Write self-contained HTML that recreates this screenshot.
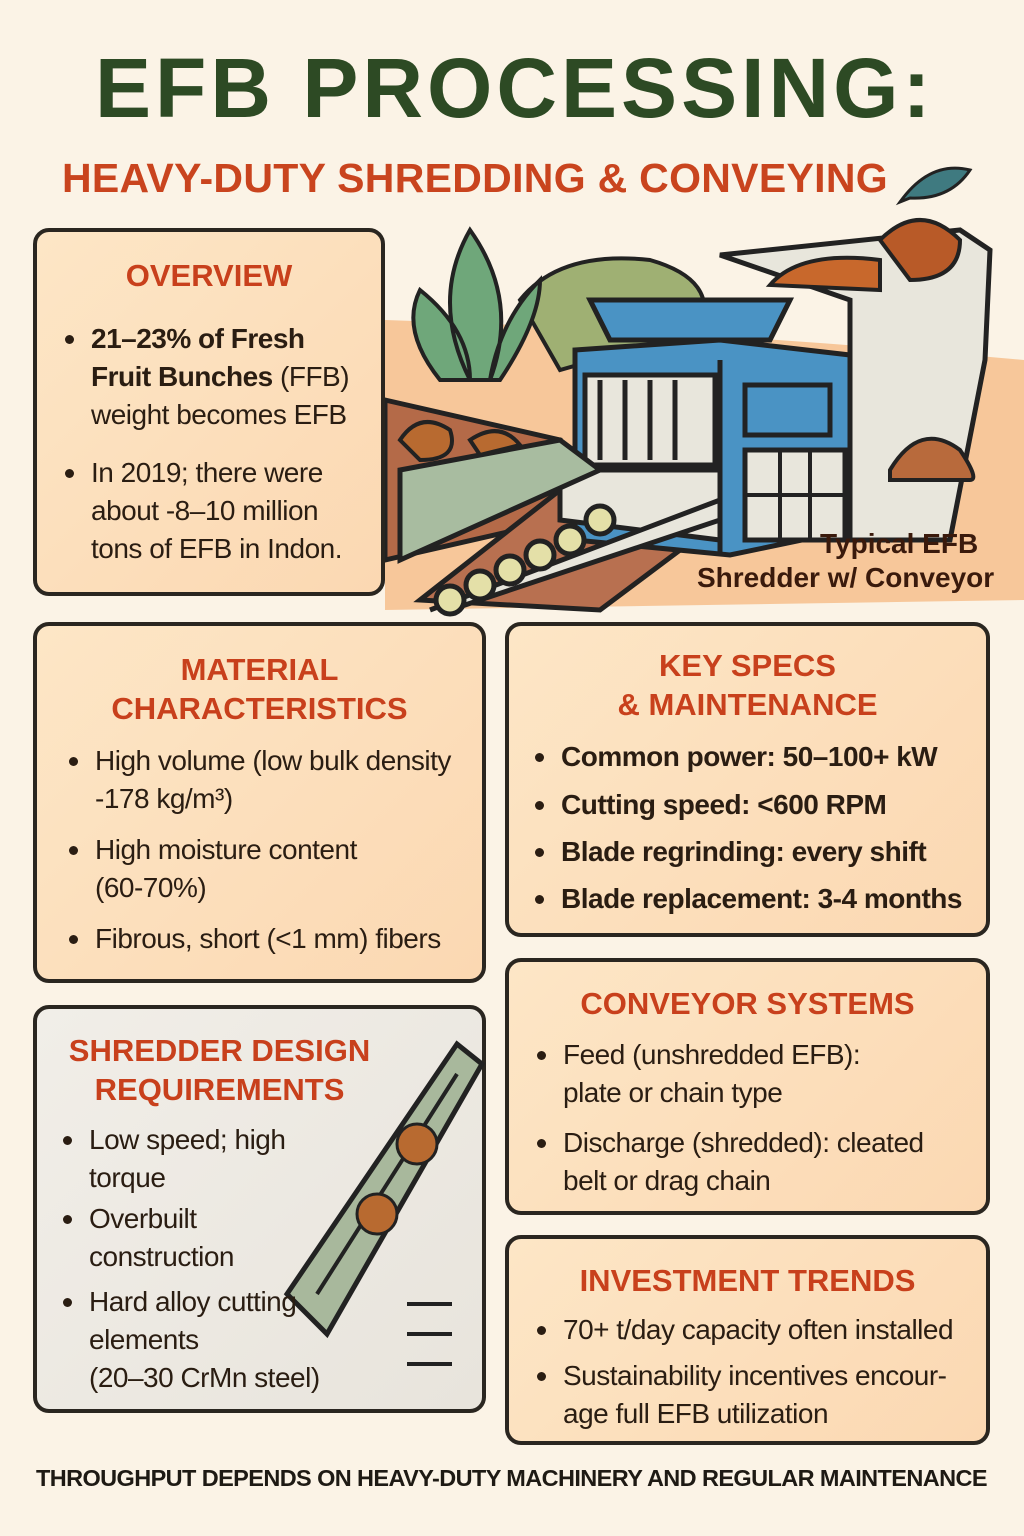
<!DOCTYPE html>
<html><head><meta charset="utf-8"><style>
body{margin:0;width:1024px;height:1536px;background:#fbf3e6;font-family:"Liberation Sans",sans-serif;position:relative;overflow:hidden}
.t{position:absolute;white-space:nowrap}
.box{position:absolute;border:4px solid #2a2620;border-radius:16px;box-sizing:border-box;background:linear-gradient(135deg,#fde6c6,#fbd8b2)}
.h{position:absolute;left:0;right:0;text-align:center;color:#c8401c;font-weight:bold;font-size:31px;line-height:39px}
.b{position:absolute;color:#2a1d12;font-size:28px;line-height:38px;letter-spacing:-0.5px}
.b:before{content:"";position:absolute;left:-26px;top:15px;width:9px;height:9px;border-radius:50%;background:#2a1d12}
</style></head><body>
<div class="t" style="left:95px;top:40px;font-size:84px;font-weight:bold;color:#2d4a24;letter-spacing:4px">EFB PROCESSING:</div>
<div class="t" style="left:62px;top:155px;font-size:41px;font-weight:bold;color:#c9441e;letter-spacing:0.3px">HEAVY-DUTY SHREDDING &amp; CONVEYING</div>
<svg style="position:absolute;left:890px;top:160px" width="85" height="50"><path d="M10 42 Q40 0 80 10 Q60 40 20 38 Z" fill="#3f7a80" stroke="#222" stroke-width="3"/></svg>

<svg style="position:absolute;left:0;top:0" width="1024" height="620">
<path d="M385 320 Q700 330 1024 360 L1024 600 L385 610 Z" fill="#f7c79a"/>
<path d="M720 255 L960 230 L990 250 L985 360 L950 540 L850 540 L850 300 Z" fill="#e8e6dc" stroke="#222" stroke-width="5"/>
<path d="M385 400 L560 440 L560 520 L385 560 Z" fill="#b46a48" stroke="#222" stroke-width="5"/>
<path d="M420 600 L560 490 L720 520 L600 610 Z" fill="#b87050" stroke="#222" stroke-width="5"/>
<path d="M520 300 Q560 250 650 260 Q720 280 700 330 L560 370 Z" fill="#9fb073" stroke="#222" stroke-width="4"/>
<path d="M470 380 Q430 300 470 230 Q520 300 490 380 Z M440 380 Q400 330 420 290 Q470 330 470 380Z M500 380 Q540 320 540 280 Q500 320 490 380Z" fill="#6fa77a" stroke="#222" stroke-width="4"/>
<path d="M770 285 Q800 250 880 260 L880 290 Z" fill="#c8682c" stroke="#222" stroke-width="4"/>
<path d="M880 240 Q920 200 960 240 Q960 280 910 280 Z" fill="#b85a28" stroke="#222" stroke-width="4"/>
<path d="M890 470 Q920 420 960 450 Q980 480 970 480 L890 480 Z" fill="#b86a3c" stroke="#222" stroke-width="4"/>
<path d="M590 300 L790 300 L770 340 L610 340 Z" fill="#4a93c4" stroke="#222" stroke-width="5"/>
<path d="M575 350 L720 340 L850 355 L850 530 L730 555 L575 540 Z" fill="#4a93c4" stroke="#222" stroke-width="5"/>
<path d="M720 360 L720 555" stroke="#222" stroke-width="5"/>
<rect x="585" y="375" width="130" height="90" fill="#e8e6dc" stroke="#222" stroke-width="5"/>
<path d="M600 380 v80 M625 380 v80 M650 380 v80 M675 380 v80" stroke="#222" stroke-width="5"/>
<rect x="745" y="385" width="85" height="50" fill="#4a93c4" stroke="#222" stroke-width="5"/>
<rect x="745" y="450" width="100" height="90" fill="#e8e6dc" stroke="#222" stroke-width="5"/>
<path d="M745 495 h100 M780 450 v90 M810 450 v90" stroke="#222" stroke-width="4"/>
<path d="M560 470 L720 470 L720 540 L560 520 Z" fill="#e8e6dc" stroke="#222" stroke-width="5"/>
<path d="M400 470 L560 440 L600 470 L400 560 Z" fill="#a8bca0" stroke="#222" stroke-width="5"/>
<path d="M430 610 L720 500 L720 520 L450 610" fill="#e8e6dc" stroke="#222" stroke-width="5"/>
<g fill="#e4e0a8" stroke="#222" stroke-width="5"><circle cx="600" cy="520" r="14"/><circle cx="570" cy="540" r="14"/><circle cx="540" cy="555" r="14"/><circle cx="510" cy="570" r="14"/><circle cx="480" cy="585" r="14"/><circle cx="450" cy="600" r="14"/></g>
<path d="M400 440 Q420 410 450 430 Q460 460 420 460 Z M470 440 Q500 420 520 445 L480 455Z" fill="#b86a30" stroke="#222" stroke-width="4"/>
</svg>
<div class="t" style="left:820px;top:528px;font-size:28px;font-weight:bold;color:#3a1a0c">Typical EFB</div>
<div class="t" style="left:697px;top:562px;font-size:28px;font-weight:bold;color:#3a1a0c">Shredder w/ Conveyor</div>

<div class="box" style="left:33px;top:228px;width:352px;height:368px">
<div class="h" style="top:24px;">OVERVIEW</div>
<div class="b" style="left:54px;top:88px"><b>21–23% of Fresh<br>Fruit Bunches</b> (FFB)<br>weight becomes EFB</div>
<div class="b" style="left:54px;top:222px">In 2019; there were<br>about -8–10 million<br>tons of EFB in Indon.</div>
</div>

<div class="box" style="left:33px;top:622px;width:453px;height:361px">
<div class="h" style="top:24px">MATERIAL<br>CHARACTERISTICS</div>
<div class="b" style="left:58px;top:116px">High volume (low bulk density<br>-178 kg/m³)</div>
<div class="b" style="left:58px;top:205px">High moisture content<br>(60-70%)</div>
<div class="b" style="left:58px;top:294px">Fibrous, short (&lt;1 mm) fibers</div>
</div>

<div class="box" style="left:505px;top:622px;width:485px;height:315px">
<div class="h" style="top:20px">KEY SPECS<br>&amp; MAINTENANCE</div>
<div class="b" style="left:52px;top:112px;font-weight:bold">Common power: 50–100+ kW</div>
<div class="b" style="left:52px;top:160px;font-weight:bold">Cutting speed: &lt;600 RPM</div>
<div class="b" style="left:52px;top:207px;font-weight:bold">Blade regrinding: every shift</div>
<div class="b" style="left:52px;top:254px;font-weight:bold">Blade replacement: 3-4 months</div>
</div>

<div class="box" style="left:33px;top:1005px;width:453px;height:408px;background:linear-gradient(135deg,#f1eee8,#e8e4dc)">
<svg style="position:absolute;left:230px;top:25px" width="220" height="380"><path d="M20 260 L190 10 L215 30 L60 300 Z" fill="#a8b89c" stroke="#222" stroke-width="5"/><path d="M50 260 L190 40" stroke="#222" stroke-width="4"/><g fill="#b86a30" stroke="#222" stroke-width="3"><circle cx="150" cy="110" r="20"/><circle cx="110" cy="180" r="20"/></g><path d="M140 330 h45 M140 300 h45 M140 270 h45" stroke="#222" stroke-width="4"/></svg>
<div class="h" style="top:22px;right:80px">SHREDDER DESIGN<br>REQUIREMENTS</div>
<div class="b" style="left:52px;top:112px">Low speed; high<br>torque</div>
<div class="b" style="left:52px;top:191px">Overbuilt<br>construction</div>
<div class="b" style="left:52px;top:274px">Hard alloy cutting<br>elements<br>(20–30 CrMn steel)</div>
</div>

<div class="box" style="left:505px;top:958px;width:485px;height:257px">
<div class="h" style="top:22px">CONVEYOR SYSTEMS</div>
<div class="b" style="left:54px;top:74px">Feed (unshredded EFB):<br>plate or chain type</div>
<div class="b" style="left:54px;top:162px">Discharge (shredded): cleated<br>belt or drag chain</div>
</div>

<div class="box" style="left:505px;top:1235px;width:485px;height:210px">
<div class="h" style="top:22px">INVESTMENT TRENDS</div>
<div class="b" style="left:54px;top:72px">70+ t/day capacity often installed</div>
<div class="b" style="left:54px;top:118px">Sustainability incentives encour-<br>age full EFB utilization</div>
</div>

<div class="t" style="left:36px;top:1465px;font-size:23.5px;font-weight:bold;color:#1e1a14;letter-spacing:-0.6px">THROUGHPUT DEPENDS ON HEAVY-DUTY MACHINERY AND REGULAR MAINTENANCE</div>
</body></html>
